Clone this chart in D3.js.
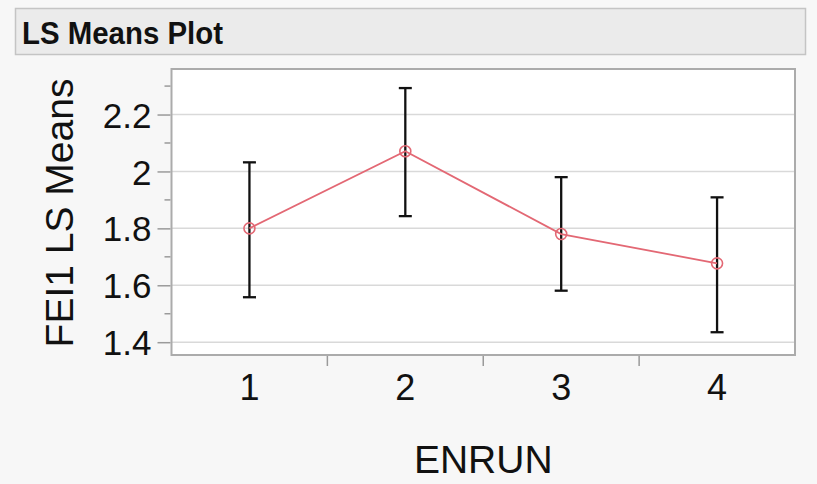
<!DOCTYPE html>
<html>
<head>
<meta charset="utf-8">
<script src="https://cdn.jsdelivr.net/npm/d3@7/dist/d3.min.js"></script>
<style>
  html, body { margin: 0; padding: 0; background: #f7f7f7; }
  svg { display: block; }
  text { font-family: "Liberation Sans", Arial, sans-serif; fill: #111; }
</style>
</head>
<body>
<svg id="chart" width="817" height="484"></svg>
<script>
// ---- data ----
const categories = ["1", "2", "3", "4"];
const lsMeans    = [1.800, 2.071, 1.780, 1.677];
const upperCI    = [2.032, 2.293, 1.980, 1.909];
const lowerCI    = [1.558, 1.843, 1.581, 1.435];
const yTickValues = [1.4, 1.6, 1.8, 2.0, 2.2];
const yTickLabels = ["1.4", "1.6", "1.8", "2", "2.2"];
const yMinorTicks = [1.5, 1.7, 1.9, 2.1, 2.3];
const title = "LS Means Plot";
const xTitle = "ENRUN";
const yTitle = "FEI1 LS Means";

(function () {
const svg = d3.select("#chart");

// title bar
svg.append("rect").attr("x", 15.5).attr("y", 8.5).attr("width", 790).attr("height", 46)
  .attr("fill", "#ebebeb").attr("stroke", "#c4c4c4").attr("stroke-width", 1.5);
svg.append("text").attr("x", 22).attr("y", 44).attr("font-size", 31).attr("font-weight", "bold")
  .attr("textLength", 201).attr("lengthAdjust", "spacingAndGlyphs")
  .text(title);

// plot area
const pL = 171.5, pR = 795, pT = 69, pB = 355;
const x = d3.scaleBand().domain(categories).range([pL, pR]).padding(0);
const y = d3.scaleLinear().domain([1.355, 2.36]).range([pB, pT]);

svg.append("rect").attr("x", pL).attr("y", pT).attr("width", pR - pL).attr("height", pB - pT)
  .attr("fill", "#ffffff");

// gridlines
svg.append("g").selectAll("line").data(yTickValues).join("line")
  .attr("x1", pL).attr("x2", pR)
  .attr("y1", d => y(d)).attr("y2", d => y(d))
  .attr("stroke", "#d9d9d9").attr("stroke-width", 1.5);

// frame
svg.append("rect").attr("x", pL).attr("y", pT).attr("width", pR - pL).attr("height", pB - pT)
  .attr("fill", "none").attr("stroke", "#ababab").attr("stroke-width", 2);

// y axis
const yAxis = d3.axisLeft(y).tickValues(yTickValues).tickSize(13).tickPadding(6)
  .tickFormat((d, i) => yTickLabels[i]);
const gy = svg.append("g").attr("transform", `translate(${pL - 1},0)`).call(yAxis);
gy.select(".domain").remove();
gy.selectAll(".tick line").attr("stroke", "#9a9a9a").attr("stroke-width", 1.5);
gy.selectAll(".tick text").attr("font-size", 35).attr("font-family", "Liberation Sans, Arial, sans-serif")
  .attr("fill", "#111").attr("dy", "0.36em");
svg.append("g").selectAll("line").data(yMinorTicks).join("line")
  .attr("x1", pL - 7).attr("x2", pL - 1)
  .attr("y1", d => y(d)).attr("y2", d => y(d))
  .attr("stroke", "#9a9a9a").attr("stroke-width", 1.5);

// x axis: ticks at band boundaries, labels at centers
const xBoundaries = categories.slice(1).map(c => x(c));
svg.append("g").selectAll("line").data(xBoundaries).join("line")
  .attr("x1", d => d).attr("x2", d => d)
  .attr("y1", pB + 1).attr("y2", pB + 11)
  .attr("stroke", "#9a9a9a").attr("stroke-width", 1.5);
svg.append("g").selectAll("text").data(categories).join("text")
  .attr("x", d => x(d) + x.bandwidth() / 2).attr("y", 400)
  .attr("text-anchor", "middle").attr("font-size", 36)
  .text(d => d);

// axis titles
svg.append("text").attr("x", (pL + pR) / 2).attr("y", 473)
  .attr("text-anchor", "middle").attr("font-size", 39).text(xTitle);
svg.append("text").attr("transform", `translate(73,${(pT + pB) / 2 + 1}) rotate(-90)`)
  .attr("text-anchor", "middle").attr("font-size", 39).text(yTitle);

// error bars
const cx = i => x(categories[i]) + x.bandwidth() / 2;
const eb = svg.append("g").attr("stroke", "#111").attr("stroke-width", 2.3);
categories.forEach((c, i) => {
  const xc = cx(i);
  eb.append("line").attr("x1", xc).attr("x2", xc).attr("y1", y(upperCI[i])).attr("y2", y(lowerCI[i]));
  eb.append("line").attr("x1", xc - 6.5).attr("x2", xc + 6.5).attr("y1", y(upperCI[i])).attr("y2", y(upperCI[i]));
  eb.append("line").attr("x1", xc - 6.5).attr("x2", xc + 6.5).attr("y1", y(lowerCI[i])).attr("y2", y(lowerCI[i]));
});

// means line
const line = d3.line().x((d, i) => cx(i)).y(d => y(d));
svg.append("path").datum(lsMeans).attr("d", line)
  .attr("fill", "none").attr("stroke", "#e36874").attr("stroke-width", 1.8);
svg.append("g").selectAll("circle").data(lsMeans).join("circle")
  .attr("cx", (d, i) => cx(i)).attr("cy", d => y(d)).attr("r", 5.5)
  .attr("fill", "none").attr("stroke", "#e36874").attr("stroke-width", 1.6);
})();
</script>
</body>
</html>
